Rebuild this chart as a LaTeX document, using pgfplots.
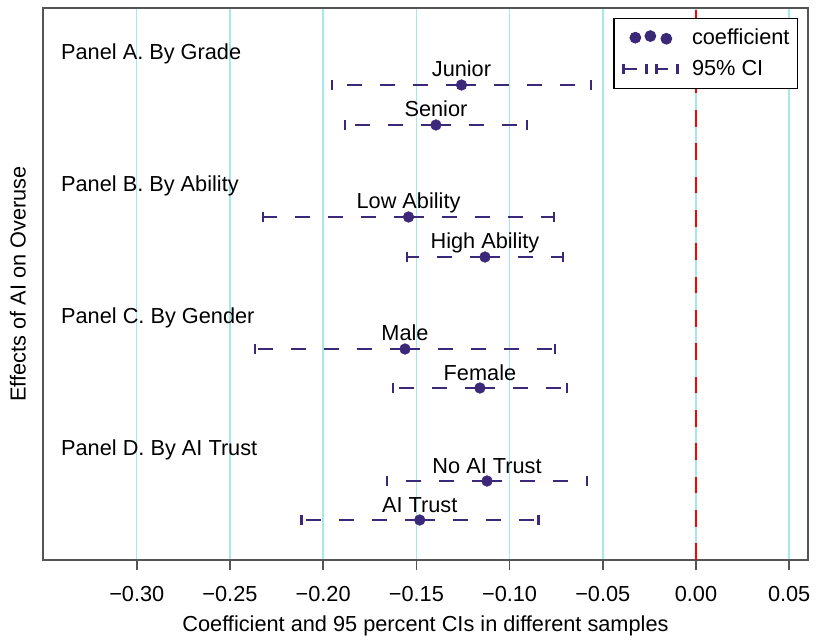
\documentclass[border=0pt]{standalone}
\usepackage{fontspec}
\setmainfont{Liberation Sans}
\usepackage{pgfplots}
\usepackage{pgfplotstable}
\pgfplotsset{compat=1.18}

\definecolor{ci}{RGB}{60,40,120}
\definecolor{gridc}{RGB}{165,232,232}
\definecolor{framec}{RGB}{85,85,85}

% coefficient (x), half-width of the 95% CI (err), row position (y)
\pgfplotstableread{
label y x err
Junior 47.5 -0.1258 0.0695
Senior 43.5 -0.1395 0.0488
{Low Ability} 34.3 -0.1542 0.0780
{High Ability} 30.3 -0.1132 0.0418
Male 21.1 -0.1561 0.0805
Female 17.2 -0.1159 0.0467
{No AI Trust} 7.9 -0.1121 0.0537
{AI Trust} 4.0 -0.1482 0.0636
}\coefs

\newcommand{\bigfont}{\fontsize{16.3}{19}\selectfont}

\begin{document}
\begin{tikzpicture}
  \begin{axis}[
    name=ax,
    scale only axis,
    width=573.75pt,
    height=414pt,
    xmin=-0.3503, xmax=0.0601,
    ymin=0, ymax=55.2,
    xtick={-0.30,-0.25,-0.20,-0.15,-0.10,-0.05,0,0.05},
    xticklabels={−0.30,−0.25,−0.20,−0.15,−0.10,−0.05,0.00,0.05},
    ytick=\empty,
    xtick pos=bottom,
    tick align=outside,
    major tick length=7.5pt,
    xmajorgrids,
    grid style={gridc, line width=1.1pt},
    axis line style={framec, line width=1.2pt},
    major tick style={framec, line width=1.2pt},
    font=\bigfont,
    tick label style={font=\bigfont},
    xticklabel style={yshift=-9pt},
    xlabel={Coefficient and 95 percent CIs in different samples},
    ylabel={Effects of AI on Overuse},
    xlabel style={at={([yshift=-53.25pt]axis description cs:0.5,0)}, anchor=base, font=\bigfont},
    ylabel style={at={([xshift=-13pt]axis description cs:0,0.5)}, anchor=base, rotate=0, font=\bigfont},
    legend style={
      at={(rel axis cs:1,1)}, anchor=north east,
      xshift=-7.5pt, yshift=-7.5pt,
      draw=black, line width=0.8pt, fill=white,
      inner xsep=6pt, inner ysep=8pt,
      row sep=10pt,
      font=\bigfont,
      nodes={inner sep=0pt},
    },
    legend cell align=left,
  ]

    \addplot[forget plot, red, line width=2pt, dash pattern=on 12.5pt off 12.5pt]
      coordinates {(0,0) (0,55.2)};

    \addplot[
      forget plot,
      only marks,
      mark=*,
      mark size=4pt,
      color=ci,
      nodes near coords,
      point meta=explicit symbolic,
      every node near coord/.append style={anchor=base, yshift=6pt, inner sep=0pt, text=black, font=\bigfont},
      error bars/.cd,
        x dir=both, x explicit,
        error mark=|,
        error bar style={line width=2pt, dash pattern=on 11.25pt off 13.5pt},
        error mark options={solid, line width=2pt, mark size=3.75pt, ci},
    ] table[x=x, y=y, x error=err, meta=label] {\coefs};

    \node[anchor=base west, inner sep=0pt] at (axis cs:-0.3407,50.0) {Panel A. By Grade};
    \node[anchor=base west, inner sep=0pt] at (axis cs:-0.3407,36.8) {Panel B. By Ability};
    \node[anchor=base west, inner sep=0pt] at (axis cs:-0.3407,23.6) {Panel C. By Gender};
    \node[anchor=base west, inner sep=0pt] at (axis cs:-0.3407,10.5) {Panel D. By AI Trust};

    \addlegendimage{legend image code/.code={
      \path[draw=none, fill=none] (2pt,-6pt) rectangle (51.5pt,6pt);
      \fill[ci] (9pt,0.3pt) circle (4pt);
      \fill[ci] (20.25pt,1.5pt) circle (4pt);
      \fill[ci] (32.25pt,-0.5pt) circle (4pt);
    }}
    \addlegendentry{coefficient}
    \addlegendimage{legend image code/.code={
      \path[draw=none, fill=none] (2pt,-6pt) rectangle (51.5pt,6pt);
      \draw[ci, solid, line width=2pt, dash pattern=on 10.5pt off 20pt] (0pt,0pt) -- (17.25pt,0pt);
      \draw[ci, solid, line width=2pt] (0pt,-3.75pt) -- (0pt,3.75pt) (17.25pt,-3.75pt) -- (17.25pt,3.75pt);
      \draw[ci, solid, line width=2pt, dash pattern=on 9pt off 20pt] (24.75pt,0pt) -- (40.5pt,0pt);
      \draw[ci, solid, line width=2pt] (24.75pt,-3.75pt) -- (24.75pt,3.75pt) (40.5pt,-3.75pt) -- (40.5pt,3.75pt);
    }}
    \addlegendentry{95\% CI}

  \end{axis}
  \pgfresetboundingbox
  \path ([xshift=-32.25pt,yshift=-59.25pt]ax.south west) rectangle ([xshift=6pt,yshift=6pt]ax.north east);
\end{tikzpicture}
\end{document}
